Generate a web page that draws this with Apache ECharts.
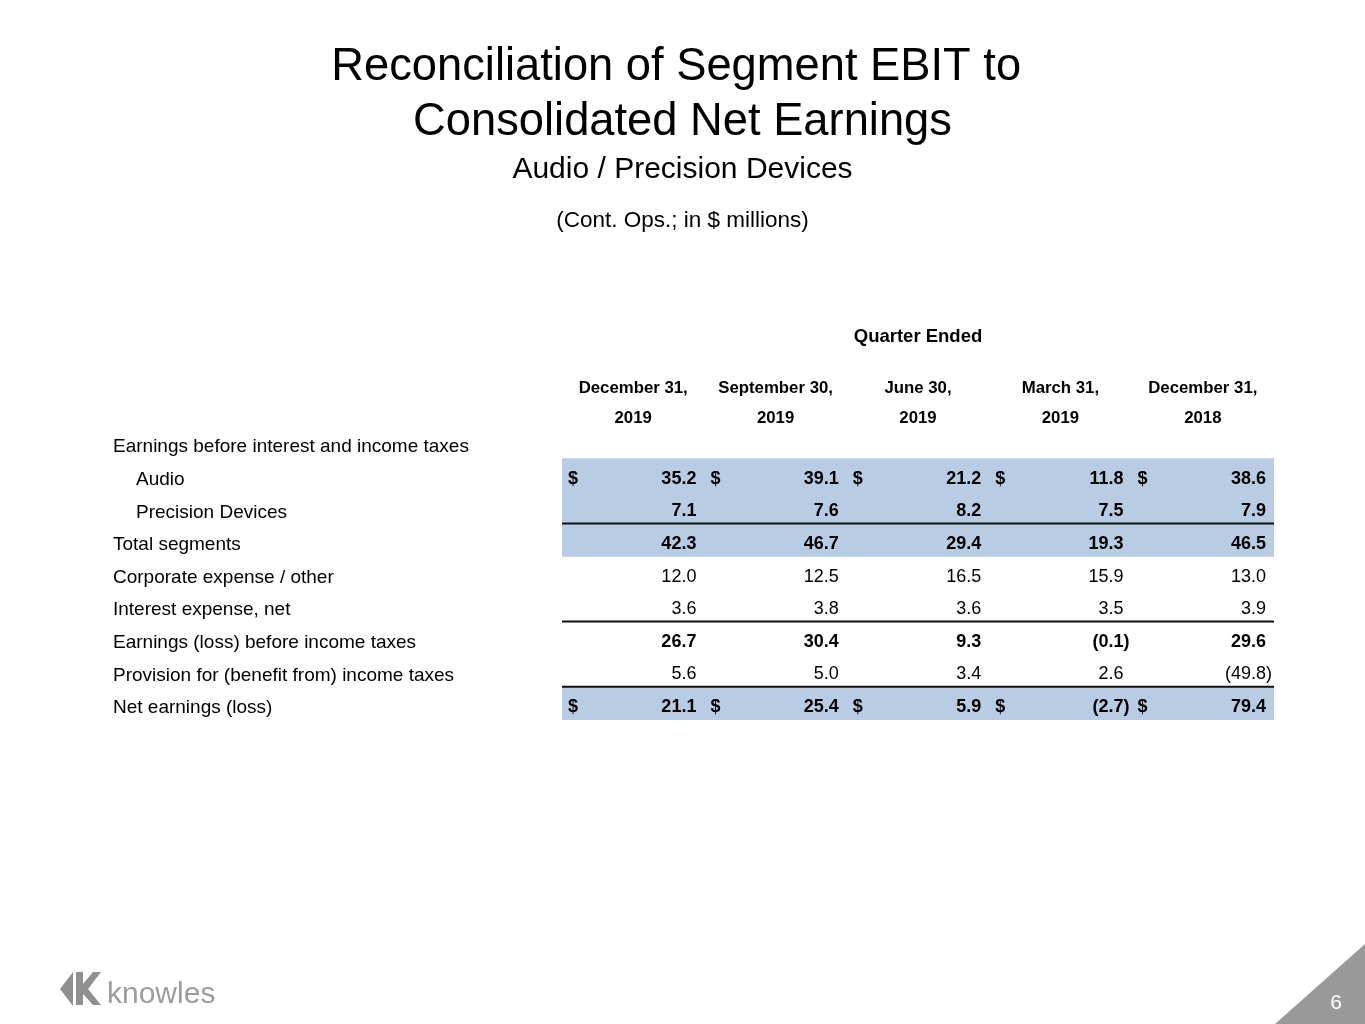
<!DOCTYPE html>
<html>
<head>
<meta charset="utf-8">
<script src="https://cdn.jsdelivr.net/npm/echarts@6/dist/echarts.min.js"></script>
<style>
html,body{margin:0;padding:0;background:#fff;}
#chart{width:1365px;height:1024px;}
</style>
</head>
<body>
<div id="chart"></div>
<script>
// ---- data ----
const rowLabels = [
  'Earnings before interest and income taxes',
  'Audio',
  'Precision Devices',
  'Total segments',
  'Corporate expense / other',
  'Interest expense, net',
  'Earnings (loss) before income taxes',
  'Provision for (benefit from) income taxes',
  'Net earnings (loss)'
];
const periods = ['December 31,\n2019', 'September 30,\n2019', 'June 30,\n2019', 'March 31,\n2019', 'December 31,\n2018'];
const audio = [35.2, 39.1, 21.2, 11.8, 38.6];
const precisionDevices = [7.1, 7.6, 8.2, 7.5, 7.9];
const totalSegments = [42.3, 46.7, 29.4, 19.3, 46.5];
const corporateExpense = [12.0, 12.5, 16.5, 15.9, 13.0];
const interestExpense = [3.6, 3.8, 3.6, 3.5, 3.9];
const earningsBeforeTaxes = [26.7, 30.4, 9.3, -0.1, 29.6];
const incomeTaxes = [5.6, 5.0, 3.4, 2.6, -49.8];
const netEarnings = [21.1, 25.4, 5.9, -2.7, 79.4];

// row index -> values
const rowValues = {
  1: audio, 2: precisionDevices, 3: totalSegments, 4: corporateExpense,
  5: interestExpense, 6: earningsBeforeTaxes, 7: incomeTaxes, 8: netEarnings
};
const boldRows = [1, 2, 3, 6, 8];
const dollarRows = [1, 8];
const shadedRows = [1, 2, 3, 8];
const ruleAfterRows = [2, 5, 7];
const indentRows = [1, 2];

const FONT = '"Liberation Sans", Arial, sans-serif';

const cellData = [];
Object.keys(rowValues).forEach(function (k) {
  const r = +k;
  rowValues[k].forEach(function (v, c) { cellData.push([c, r, v]); });
});

function fmt(v) {
  return v < 0 ? '(' + Math.abs(v).toFixed(1) + ')' : v.toFixed(1);
}

const chart = echarts.init(document.getElementById('chart'), null, {renderer: 'canvas'});

const option = {
  backgroundColor: '#ffffff',
  animation: false,
  title: [
    {
      text: 'Reconciliation of Segment EBIT to \nConsolidated Net Earnings',
      left: 'center', top: 35.5,
      textStyle: {fontFamily: FONT, fontSize: 45.3, fontWeight: 'normal', color: '#000', lineHeight: 55}
    },
    {
      text: 'Audio / Precision Devices',
      left: 'center', top: 147,
      textStyle: {fontFamily: FONT, fontSize: 30, fontWeight: 'normal', color: '#000', lineHeight: 36}
    },
    {
      text: '(Cont. Ops.; in $ millions)',
      left: 'center', top: 202.5,
      textStyle: {fontFamily: FONT, fontSize: 22.5, fontWeight: 'normal', color: '#000', lineHeight: 27}
    }
  ],
  grid: {left: 562, right: 91, top: 425.7, bottom: 304.6, containLabel: false},
  xAxis: [
    {
      type: 'value', min: 0, max: 5, show: false
    },
    {
      type: 'category', data: periods, position: 'top', gridIndex: 0,
      boundaryGap: true,
      axisLine: {show: false}, axisTick: {show: false}, splitLine: {show: false},
      axisLabel: {
        fontFamily: FONT, fontSize: 16.8, fontWeight: 'bold', color: '#000',
        lineHeight: 30, margin: -8, interval: 0
      },
      name: 'Quarter Ended', nameLocation: 'middle', nameGap: 89,
      nameTextStyle: {fontFamily: FONT, fontSize: 18.5, fontWeight: 'bold', color: '#000', verticalAlign: 'middle'}
    }
  ],
  yAxis: {
    type: 'category', data: rowLabels, inverse: true,
    axisLine: {show: false}, axisTick: {show: false}, splitLine: {show: false},
    axisLabel: {
      align: 'left', margin: 449, interval: 0,
      formatter: function (val, idx) {
        return indentRows.indexOf(idx) >= 0 ? '{i|' + val + '}' : '{n|' + val + '}';
      },
      rich: {
        i: {fontFamily: FONT, fontSize: 19, color: '#000', padding: [10, 0, 0, 23]},
        n: {fontFamily: FONT, fontSize: 19, color: '#000', padding: [10, 0, 0, 0]}
      }
    }
  },
  series: [
    {
      type: 'custom', name: 'shade', xAxisIndex: 0, yAxisIndex: 0, z: 1,
      data: shadedRows.map(function (r) { return [0, r]; }),
      renderItem: function (params, api) {
        const r = api.value(1);
        const p0 = api.coord([0, r]);
        const p1 = api.coord([5, r]);
        const h = api.size([0, 1])[1];
        return {type: 'rect', shape: {x: p0[0], y: p0[1] - h / 2, width: p1[0] - p0[0], height: h + 0.5},
          style: {fill: '#b8cce4'}};
      }
    },
    {
      type: 'custom', name: 'rules', xAxisIndex: 0, yAxisIndex: 0, z: 2,
      data: ruleAfterRows.map(function (r) { return [0, r]; }),
      renderItem: function (params, api) {
        const r = api.value(1);
        const p0 = api.coord([0, r]);
        const p1 = api.coord([5, r]);
        const h = api.size([0, 1])[1];
        const y = p0[1] + h / 2;
        return {type: 'line', shape: {x1: p0[0], y1: y, x2: p1[0], y2: y},
          style: {stroke: '#111', lineWidth: 2}};
      }
    },
    {
      type: 'custom', name: 'values', xAxisIndex: 0, yAxisIndex: 0, z: 3,
      data: cellData,
      renderItem: function (params, api) {
        const c = api.value(0), r = api.value(1), v = api.value(2);
        const right = api.coord([c + 1, r]);
        const left = api.coord([c, r]);
        const bold = boldRows.indexOf(r) >= 0;
        const children = [{
          type: 'text',
          x: right[0] - 8 + (v < 0 ? 6 : 0), y: right[1] + 4,
          style: {text: fmt(v), align: 'right', verticalAlign: 'middle',
            fontFamily: FONT, fontSize: 18, fontWeight: bold ? 'bold' : 'normal', fill: '#000'}
        }];
        if (dollarRows.indexOf(r) >= 0) {
          children.push({
            type: 'text', x: left[0] + 6, y: left[1] + 4,
            style: {text: '$', align: 'left', verticalAlign: 'middle',
              fontFamily: FONT, fontSize: 18, fontWeight: 'bold', fill: '#000'}
          });
        }
        return {type: 'group', children: children};
      }
    }
  ],
  graphic: [
    {type: 'polygon', shape: {points: [[60, 989], [73, 972], [73, 1006]]}, style: {fill: '#8f8f8f'}},
    {type: 'polygon', shape: {points: [[76, 972], [83, 972], [83, 984], [93, 972], [101, 972], [88, 989], [101, 1005], [93, 1005], [83, 994], [83, 1005], [76, 1005]]}, style: {fill: '#8f8f8f'}},
    {type: 'text', left: 107, top: 980, style: {text: 'knowles', fontFamily: FONT, fontSize: 30, fill: '#9c9c9c'}},
    {type: 'polygon', shape: {points: [[1275, 1024], [1365, 944], [1365, 1024]]}, style: {fill: '#999999'}},
    {type: 'text', x: 1336, y: 1003, style: {text: '6', align: 'center', verticalAlign: 'middle', fontFamily: FONT, fontSize: 21, fill: '#ffffff'}}
  ]
};

chart.setOption(option);
</script>
</body>
</html>
